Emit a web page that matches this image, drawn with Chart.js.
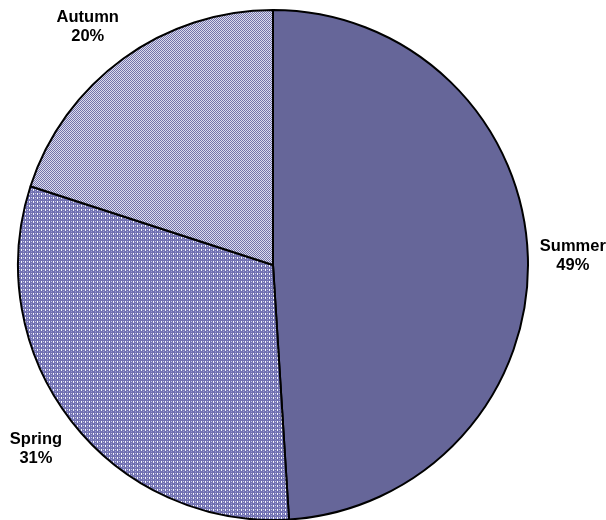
<!DOCTYPE html>
<html>
<head>
<meta charset="utf-8">
<script src="https://cdn.jsdelivr.net/npm/chart.js@4.4.1/dist/chart.umd.min.js"></script>
<style>
html,body{margin:0;padding:0;background:#fff;}
#wrap{width:606px;height:520px;position:relative;}
</style>
</head>
<body>
<div id="wrap"><canvas id="c" width="606" height="520"></canvas></div>
<script>
const categories = ["Summer", "Spring", "Autumn"];
const shares = [49, 31, 20];
const percentLabels = ["49%", "31%", "20%"];

function makePattern(size, bg, dots) {
  const c = document.createElement('canvas');
  c.width = size; c.height = size;
  const g = c.getContext('2d');
  g.fillStyle = bg; g.fillRect(0, 0, size, size);
  dots.forEach(d => { g.fillStyle = d[2]; g.fillRect(d[0], d[1], 1, 1); });
  return g.createPattern(c, 'repeat');
}
const summerFill = '#666699';
const springFill = makePattern(4, '#7272B2', [
  [1,1,'#FFFFFF'],[1,2,'#EEEEFA'],[3,1,'#C8C8E8'],[3,3,'#9494CA']
]);
const autumnFill = makePattern(2, '#DCDCEE', [
  [0,0,'#7474AA'],[1,1,'#7474AA']
]);

const labelPlugin = {
  id: 'outLabels',
  afterDatasetsDraw(chart) {
    const ctx = chart.ctx;
    const meta = chart.getDatasetMeta(0);
    ctx.save();
    ctx.font = 'bold 16.5px "Liberation Sans", Arial, sans-serif';
    ctx.fillStyle = '#000';
    ctx.textAlign = 'center';
    ctx.textBaseline = 'middle';
    meta.data.forEach((arc, i) => {
      const p = arc.getProps(['x','y','startAngle','endAngle','outerRadius'], true);
      const mid = (p.startAngle + p.endAngle) / 2;
      const r = p.outerRadius + 45;
      let x = p.x + Math.cos(mid) * r;
      let y = p.y + Math.sin(mid) * r;
      // keep the label block inside the canvas with a margin
      const top = y - 19;
      if (top < 7) { const s = 7 - top; y += s; x -= s * 2.4; }
      ctx.fillText(categories[i], x, y - 9);
      ctx.fillText(percentLabels[i], x, y + 10);
    });
    ctx.restore();
  }
};

new Chart(document.getElementById('c'), {
  type: 'pie',
  data: {
    labels: categories,
    datasets: [{
      data: shares,
      backgroundColor: [summerFill, springFill, autumnFill],
      borderColor: '#000',
      borderWidth: 2,
      borderAlign: 'center'
    }]
  },
  options: {
    responsive: false,
    animation: false,
    radius: 255,
    layout: { padding: { left: 18, right: 78, top: 10, bottom: 0 } },
    plugins: { legend: { display: false }, tooltip: { enabled: false } }
  },
  plugins: [labelPlugin]
});
</script>
</body>
</html>
